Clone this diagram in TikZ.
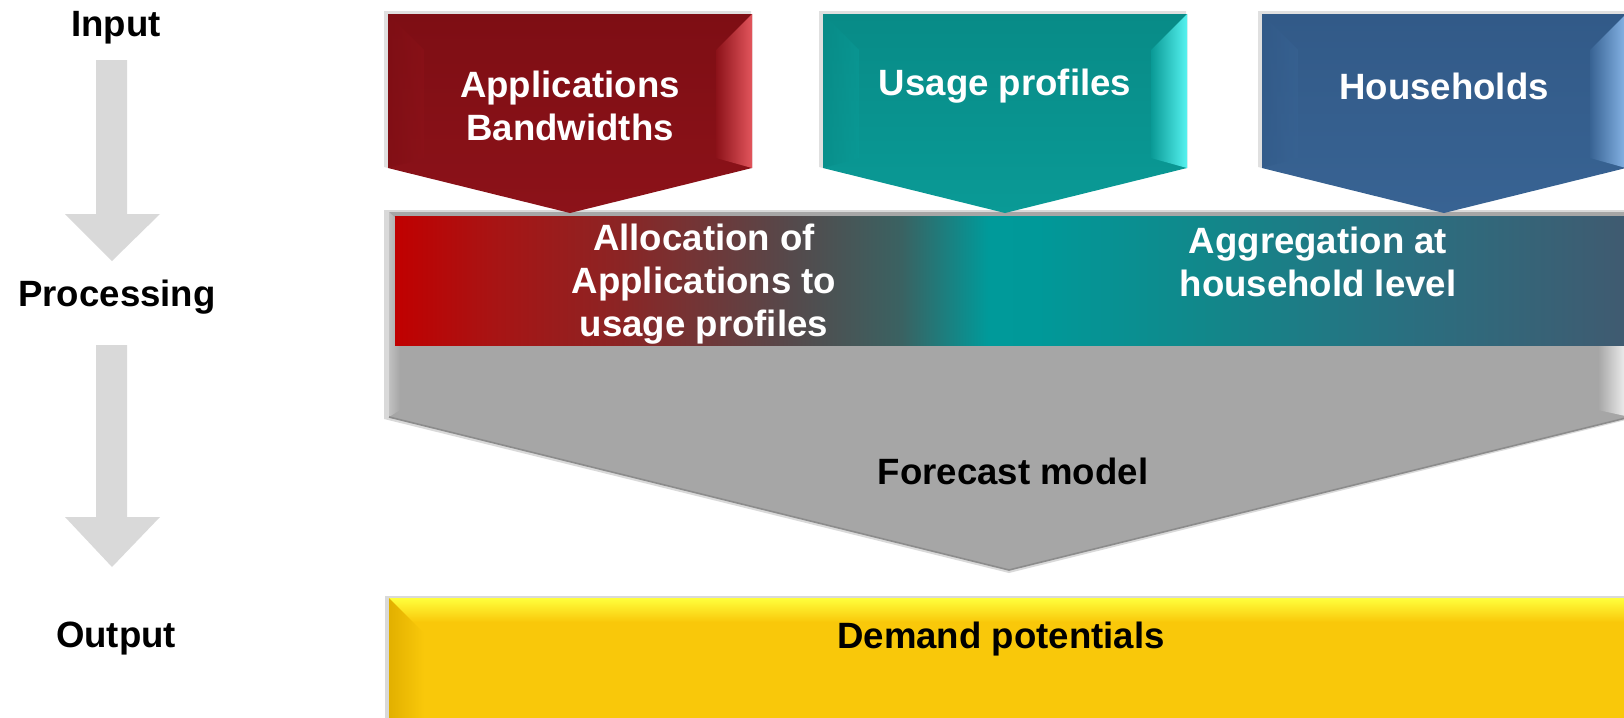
\documentclass[tikz,border=0pt]{standalone}
\usepackage{fontspec}
\setmainfont{Liberation Sans}
\usetikzlibrary{shadings}
\definecolor{redbase}{HTML}{8C1219}
\definecolor{redlight}{HTML}{E2555C}
\definecolor{reddark}{HTML}{7E0E14}
\definecolor{tealbase}{HTML}{0A9A96}
\definecolor{teallight}{HTML}{55F2F0}
\definecolor{tealdark}{HTML}{088B87}
\definecolor{bluebase}{HTML}{386393}
\definecolor{bluelight}{HTML}{86B4E6}
\definecolor{bluedark}{HTML}{325A88}
\definecolor{graybase}{HTML}{A6A6A6}
\definecolor{arrowgray}{HTML}{D9D9D9}
\definecolor{yelbase}{HTML}{F9C80A}
\definecolor{yellight}{HTML}{FFFF3C}
\definecolor{yeldark}{HTML}{E2B000}
\definecolor{bA}{HTML}{C00000}
\definecolor{bB}{HTML}{A81414}
\definecolor{bC}{HTML}{8C2424}
\definecolor{bD}{HTML}{55494B}
\definecolor{bE}{HTML}{3A6262}
\definecolor{bF}{HTML}{009A9A}
\definecolor{bG}{HTML}{009999}
\definecolor{bH}{HTML}{12878A}
\definecolor{bI}{HTML}{2A6F80}
\definecolor{bJ}{HTML}{405A70}
\pgfdeclarehorizontalshading{bandshade}{100bp}{
  color(0bp)=(bA);
  color(25bp)=(bA);
  color(29bp)=(bB);
  color(34bp)=(bC);
  color(41bp)=(bD);
  color(45.5bp)=(bE);
  color(49bp)=(bF);
  color(51bp)=(bG);
  color(58bp)=(bH);
  color(66bp)=(bI);
  color(75bp)=(bJ);
  color(100bp)=(bJ)}
\tikzset{
  lbl/.style={font=\bfseries\fontsize{18.3}{21.5}\selectfont, align=center, inner sep=0pt, text=black},
  wlbl/.style={lbl, text=white},
  sidearrow/.style={fill=arrowgray, draw=none}
}
\newcommand\mypent[4]{%
  \pgfmathsetmacro\PR{#1+364}\pgfmathsetmacro\PC{#1+182}%
  \fill[black, opacity=.12] (#1-4,11) -- (\PR-1,11) -- (\PR-1,166) -- (\PC-1,212) -- (#1-4,167) -- cycle;
  \shade[top color=#4, bottom color=#2] (#1,14) -- (\PR,14) -- (\PR,168) -- (\PC,213) -- (#1,168) -- cycle;
  \shade[left color=#2, right color=#3] (\PR-36,50) -- (\PR,14) -- (\PR,168) -- (\PR-36,158) -- cycle;
  \shade[left color=#4, right color=#2, opacity=.6] (#1,14) -- (#1+36,50) -- (#1+36,158) -- (#1,168) -- cycle;
}
\begin{document}
\begin{tikzpicture}[x=0.5pt, y=-0.5pt]
\useasboundingbox (0,0) rectangle (1624,718);

% left-hand stage arrows
\coordinate (a1top) at (112,60);
\coordinate (a1tip) at (112,261);
\fill[sidearrow] (96,60) -- (127,60) -- (127,214) -- (160,214) -- (a1tip) -- (65,214) -- (96,214) -- cycle;
\coordinate (a2top) at (112,345);
\coordinate (a2tip) at (112,567);
\fill[sidearrow] (96,345) -- (127,345) -- (127,517) -- (160,517) -- (a2tip) -- (65,517) -- (96,517) -- cycle;

\node[lbl] (input) at (116,28) {Input};
\node[lbl] (processing) at (117,297) {Processing};
\node[lbl] (output) at (116,639) {Output};

% processing chevron
\fill[black, opacity=.15] (384,210) -- (1630,210) -- (1630,419) -- (1009,573) -- (384,419) -- cycle;
\fill[graybase] (389,212) -- (1630,212) -- (1630,417) -- (1009,570) -- (389,417) -- cycle;
\shade[left color=graybase!70!white, right color=graybase] (389,212) -- (400,222) -- (400,410) -- (389,417) -- cycle;
\shade[left color=graybase, right color=white!94!graybase] (1598,345) -- (1630,345) -- (1630,417) -- (1598,410) -- cycle;
\draw[black!45, line width=0.8pt] (389,417) -- (1009,570) -- (1630,417);
\shade[shading=bandshade] (395,216) rectangle (1630,345);

% input pentagons
\mypent{388}{redbase}{redlight}{reddark}
\mypent{823}{tealbase}{teallight}{tealdark}
\mypent{1262}{bluebase}{bluelight}{bluedark}

\node[wlbl] (apps) at (570,106) {Applications\\Bandwidths};
\node[wlbl] (usage) at (1005,86) {Usage profiles};
\node[wlbl] (households) at (1444,86) {Households};

\node[wlbl] (alloc) at (704,284) {Allocation of\\Applications to\\usage profiles};
\node[wlbl] (aggr) at (1318,262) {Aggregation at\\household level};
\node[lbl] (forecast) at (1013,471) {Forecast model};

% output bar
\fill[black, opacity=.15] (385,596) rectangle (1630,720);
\fill[yelbase] (389,598) rectangle (1630,720);
\shade[top color=yellight, bottom color=yelbase] (389,598) rectangle (1630,622);
\shade[left color=yeldark, right color=yelbase] (389,598) -- (424,633) -- (424,720) -- (389,720) -- cycle;
\node[lbl] (demand) at (1001,639) {Demand potentials};
\end{tikzpicture}
\end{document}
